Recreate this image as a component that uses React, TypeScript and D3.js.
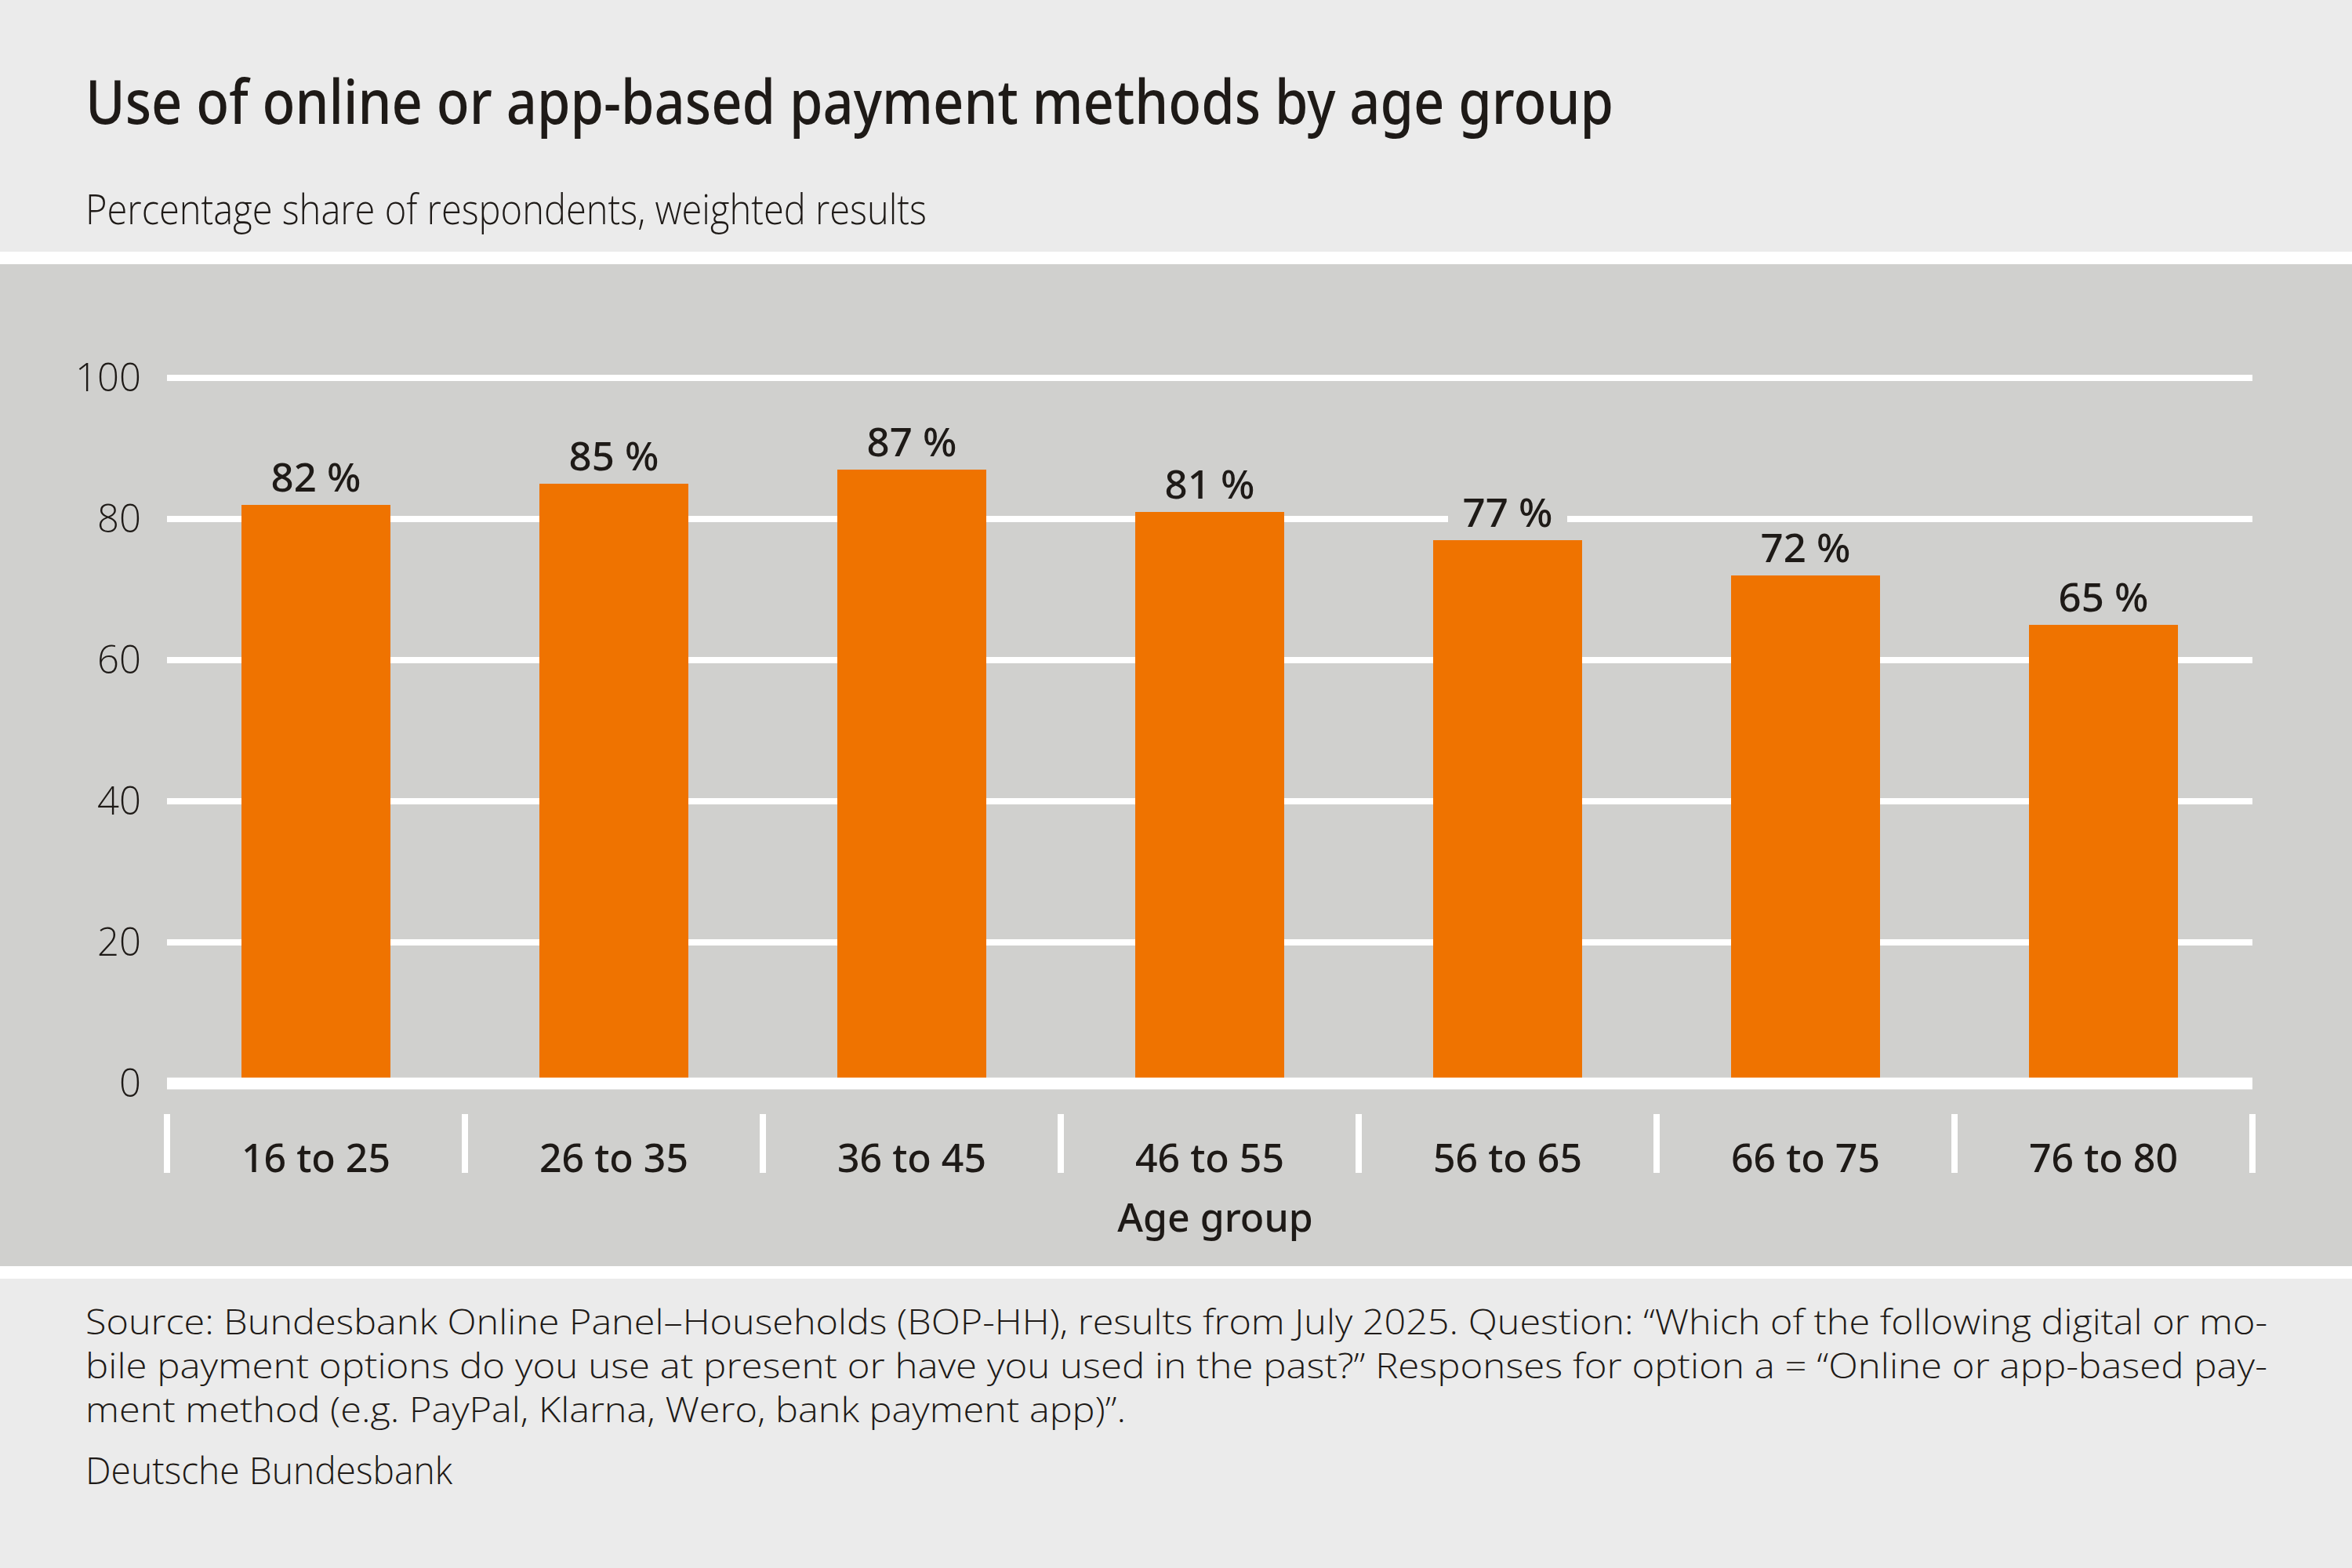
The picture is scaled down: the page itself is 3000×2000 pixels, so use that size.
import { useEffect, useRef } from 'react'
import * as d3 from 'd3'

const categories = ['16 to 25', '26 to 35', '36 to 45', '46 to 55', '56 to 65', '66 to 75', '76 to 80']
const shares = [82, 85, 87, 81, 77, 72, 65]
const yTicks = [0, 20, 40, 60, 80, 100]

const title = 'Use of online or app-based payment methods by age group'
const subtitle = 'Percentage share of respondents, weighted results'
const xTitle = 'Age group'
const footnoteLines = [
	'Source: Bundesbank Online Panel\u2013Households (BOP-HH), results from July 2025. Question: \u201cWhich of the following digital or mo-',
	'bile payment options do you use at present or have you used in the past?\u201d Responses for option a = \u201cOnline or app-based pay-',
	'ment method (e.g. PayPal, Klarna, Wero, bank payment app)\u201d.',
]
const footnoteWidths = [2783, 2783, 1327]
const credit = 'Deutsche Bundesbank'

const FONT = '"Open Sans", "Noto Sans", sans-serif'
const FONT_MED = '"Noto Sans", "Open Sans", sans-serif'
const INK = '#1e1a17'
const BG = '#ebebeb'
const PANEL = '#d0d0ce'
const ORANGE = '#ef7300'

const App = () => {
	const svgRef = useRef(null)

	useEffect(() => {
		const W = 3000
		const H = 2000
		const left = 213
		const right = 2873

		d3.select(svgRef.current).selectAll('*').remove()
		const svg = d3.select(svgRef.current).attr('width', W).attr('height', H)

		// backgrounds
		svg.append('rect').attr('width', W).attr('height', H).attr('fill', BG)
		svg.append('rect').attr('y', 321).attr('width', W).attr('height', 16).attr('fill', '#ffffff')
		svg.append('rect').attr('y', 337).attr('width', W).attr('height', 1278).attr('fill', PANEL)
		svg.append('rect').attr('y', 1615).attr('width', W).attr('height', 16).attr('fill', '#ffffff')

		// title + subtitle
		svg
			.append('text')
			.attr('x', 109)
			.attr('y', 158)
			.attr('textLength', 1949)
			.attr('lengthAdjust', 'spacingAndGlyphs')
			.style('font-family', FONT_MED)
			.style('font-size', '78px')
			.style('font-weight', 500)
			.style('fill', INK)
			.text(title)

		svg
			.append('text')
			.attr('x', 109)
			.attr('y', 286)
			.attr('textLength', 1073)
			.attr('lengthAdjust', 'spacingAndGlyphs')
			.style('font-family', FONT)
			.style('font-size', '53px')
			.style('font-weight', 300)
			.style('fill', INK)
			.text(subtitle)

		// scales
		const x = d3.scaleBand().domain(categories).range([left, right]).paddingInner(0.5).paddingOuter(0.25)
		const y = d3.scaleLinear().domain([0, 100]).range([1382, 482])
		const step = x.step()

		// gridlines
		svg
			.append('g')
			.selectAll('line')
			.data(yTicks.filter((t) => t > 0))
			.enter()
			.append('line')
			.attr('x1', left)
			.attr('x2', right)
			.attr('y1', (d) => y(d))
			.attr('y2', (d) => y(d))
			.attr('stroke', '#ffffff')
			.attr('stroke-width', 8)

		// y tick labels
		svg
			.append('g')
			.selectAll('text')
			.data(yTicks)
			.enter()
			.append('text')
			.attr('x', 180)
			.attr('y', (d) => y(d) + 17)
			.attr('text-anchor', 'end')
			.style('font-family', FONT)
			.style('font-size', '49px')
			.style('font-weight', 300)
			.style('fill', INK)
			.text((d) => d)

		// bars
		svg
			.append('g')
			.selectAll('rect')
			.data(shares)
			.enter()
			.append('rect')
			.attr('x', (d, i) => x(categories[i]))
			.attr('y', (d) => y(d))
			.attr('width', x.bandwidth())
			.attr('height', (d) => y(0) - y(d))
			.attr('fill', ORANGE)

		// zero line
		svg
			.append('line')
			.attr('x1', left)
			.attr('x2', right)
			.attr('y1', y(0))
			.attr('y2', y(0))
			.attr('stroke', '#ffffff')
			.attr('stroke-width', 15)

		// value labels with knock-out background
		const labels = svg
			.append('g')
			.selectAll('g')
			.data(shares)
			.enter()
			.append('g')
			.attr('transform', (d, i) => `translate(${x(categories[i]) + x.bandwidth() / 2},${y(d) - 17})`)

		labels
			.append('rect')
			.attr('x', -76)
			.attr('y', -46)
			.attr('width', 152)
			.attr('height', 56)
			.attr('fill', PANEL)

		labels
			.append('text')
			.attr('text-anchor', 'middle')
			.style('font-family', FONT_MED)
			.style('font-size', '51px')
			.style('font-weight', 500)
			.style('fill', INK)
			.text((d) => `${d} %`)

		// category separators
		svg
			.append('g')
			.selectAll('line')
			.data(d3.range(categories.length + 1))
			.enter()
			.append('line')
			.attr('x1', (i) => left + i * step)
			.attr('x2', (i) => left + i * step)
			.attr('y1', 1421)
			.attr('y2', 1496)
			.attr('stroke', '#ffffff')
			.attr('stroke-width', 8)

		// category labels
		svg
			.append('g')
			.selectAll('text')
			.data(categories)
			.enter()
			.append('text')
			.attr('x', (d) => x(d) + x.bandwidth() / 2)
			.attr('y', 1495)
			.attr('text-anchor', 'middle')
			.style('font-family', FONT_MED)
			.style('font-size', '50px')
			.style('font-weight', 500)
			.style('fill', INK)
			.text((d) => d)

		svg
			.append('text')
			.attr('x', 1550)
			.attr('y', 1571)
			.attr('text-anchor', 'middle')
			.style('font-family', FONT_MED)
			.style('font-size', '50px')
			.style('font-weight', 500)
			.style('fill', INK)
			.text(xTitle)

		// footnote
		svg
			.append('g')
			.selectAll('text')
			.data(footnoteLines)
			.enter()
			.append('text')
			.attr('x', 109)
			.attr('y', (d, i) => 1702 + i * 56)
			.attr('textLength', (d, i) => footnoteWidths[i])
			.attr('lengthAdjust', 'spacingAndGlyphs')
			.style('font-family', FONT)
			.style('font-size', '44px')
			.style('font-weight', 300)
			.style('fill', INK)
			.text((d) => d)

		svg
			.append('text')
			.attr('x', 109)
			.attr('y', 1893)
			.attr('textLength', 468)
			.attr('lengthAdjust', 'spacingAndGlyphs')
			.style('font-family', FONT)
			.style('font-size', '48px')
			.style('font-weight', 300)
			.style('fill', INK)
			.text(credit)
	}, [])

	return <svg ref={svgRef} style={{ position: 'absolute', left: 0, top: 0, display: 'block' }}></svg>
}

export default App
